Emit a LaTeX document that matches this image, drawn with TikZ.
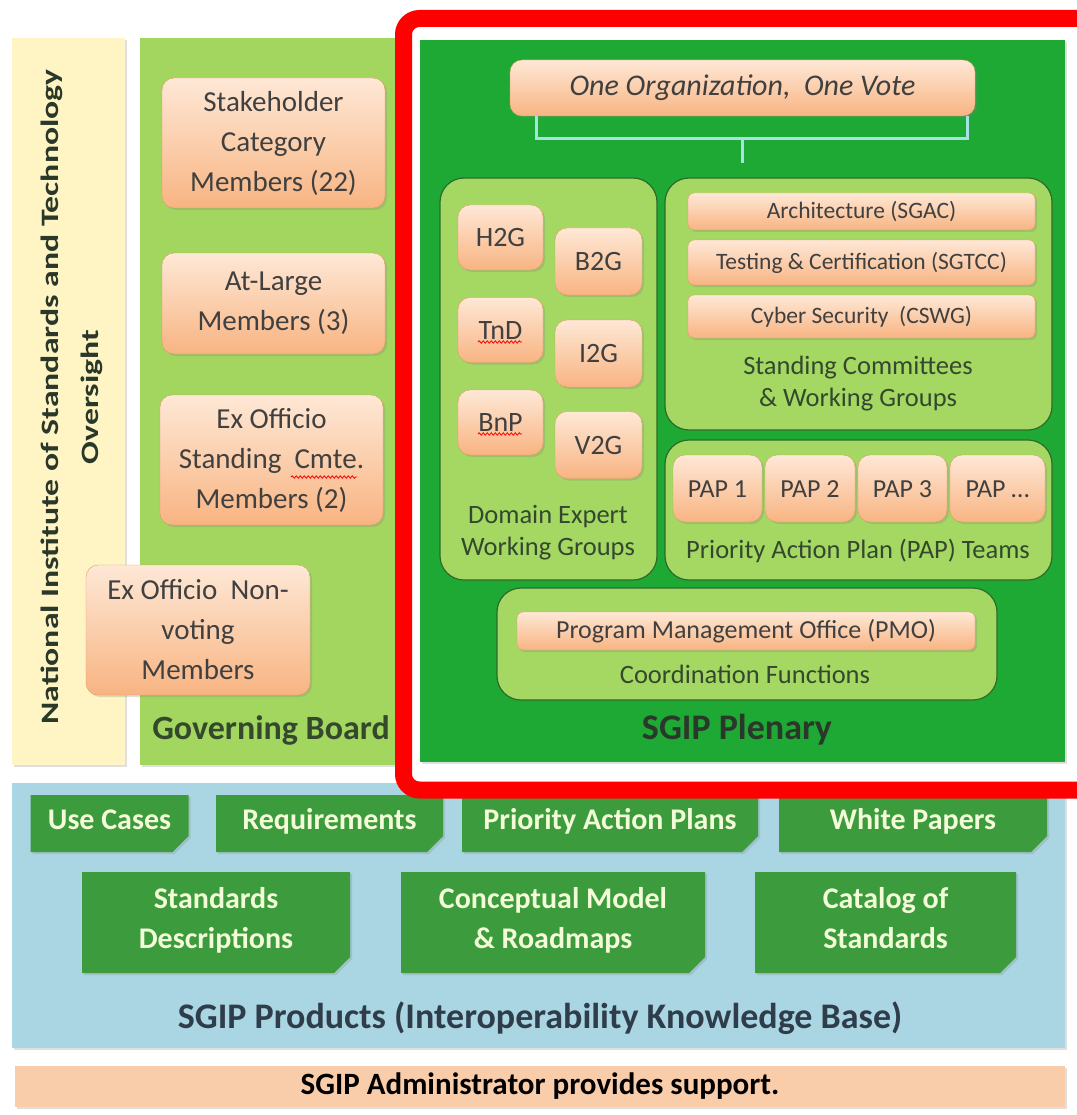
\documentclass[tikz,border=0pt]{standalone}
\usepackage{fontspec}
\setmainfont{Carlito}
\usetikzlibrary{shapes.misc,shadows,decorations.pathmorphing}

\definecolor{nistyellow}{HTML}{FFF4C4}
\definecolor{boardgreen}{HTML}{A2D65E}
\definecolor{plengreen}{HTML}{1EA934}
\definecolor{panelgreen}{HTML}{A4D862}
\definecolor{paneledge}{HTML}{2E6A2A}
\definecolor{ortop}{HTML}{FEE8D6}
\definecolor{orbot}{HTML}{F8B482}
\definecolor{oredge}{HTML}{E19C66}
\definecolor{prodgreen}{HTML}{3C9B3C}
\definecolor{prodtext}{HTML}{F3FBD8}
\definecolor{prodblue}{HTML}{AAD5E2}
\definecolor{adminpeach}{HTML}{F9CDAA}
\definecolor{bracketcyan}{HTML}{A6E2E4}
\definecolor{boxtext}{HTML}{404040}
\definecolor{captext}{HTML}{34482E}
\definecolor{titletext}{HTML}{2A382A}
\definecolor{prodtitle}{HTML}{2F3D4A}

\tikzset{
  softshadow/.style={drop shadow={opacity=0.25,shadow xshift=2pt,shadow yshift=-2pt}},
  column/.style={inner sep=0pt, softshadow},
  orbox/.style={draw=oredge, rounded corners=12pt, top color=ortop, bottom color=orbot,
    text=boxtext, align=center, inner sep=0pt, softshadow},
  bigtext/.style={font=\fontsize{29}{40}\selectfont},
  wgtext/.style={font=\fontsize{28}{30}\selectfont, text height=18pt, text depth=0pt},
  paptext/.style={font=\fontsize{26}{30}\selectfont, text height=17pt, text depth=0pt},
  cmtetext/.style={font=\fontsize{23.5}{26}\selectfont, rounded corners=6pt},
  panel/.style={draw=paneledge, line width=1.2pt, fill=panelgreen, rounded corners=24pt, inner sep=0pt},
  caption/.style={text=captext, align=center, font=\fontsize{26.5}{32}\selectfont},
  title/.style={text=titletext, font=\bfseries\fontsize{36}{40}\selectfont},
  prodbox/.style={chamfered rectangle, chamfered rectangle corners=south east,
    chamfered rectangle xsep=8pt, chamfered rectangle ysep=8pt, fill=prodgreen,
    text=prodtext, align=center, inner sep=0pt, softshadow, text depth=10pt,
    font=\bfseries\fontsize{30}{40}\selectfont},
  oneline/.style={text height=21pt, minimum height=57pt},
  twoline/.style={text height=61pt, minimum height=101pt},
  bracket/.style={draw=bracketcyan, line width=3pt},
  spell/.style={draw=red, line width=0.8pt, decorate,
    decoration={snake, amplitude=1.2pt, segment length=4pt}},
  redframe/.style={draw=red, line width=17pt, rounded corners=16pt}
}

\begin{document}
\begin{tikzpicture}[x=1pt,y=-1pt]
  \useasboundingbox (0,0) rectangle (1076,1115);

  % oversight column
  \node[column, fill=nistyellow, minimum width=113pt, minimum height=727pt] (nist) at (68.5,401.5) {};
  \node[rotate=90, xscale=1.35, align=center, text=titletext, font=\bfseries\fontsize{25}{40}\selectfont]
    (nisttitle) at (72,397) {National Institute of Standards and Technology\\Oversight};

  % governing board
  \node[column, fill=boardgreen, minimum width=258pt, minimum height=727pt] (board) at (269,401.5) {};
  \node[orbox, bigtext, minimum width=223pt, minimum height=130pt] (stake) at (273.5,143)
    {Stakeholder\\Category\\Members (22)};
  \node[orbox, bigtext, minimum width=223pt, minimum height=101pt] (atlarge) at (273.5,303.5)
    {At-Large\\Members (3)};
  \node[orbox, bigtext, minimum width=223pt, minimum height=130pt] (exstand) at (271.5,460)
    {Ex Officio\\Standing\ \ Cmte.\\Members (2)};
  \node[orbox, bigtext, minimum width=224pt, minimum height=130pt] (exnon) at (198,630)
    {Ex Officio\ \ Non-\\voting\\Members};
  \draw[spell] (291,477) -- (357,477);
  \node[title, text=captext, font=\bfseries\fontsize{34}{40}\selectfont] (boardtitle) at (271,730) {Governing Board};

  % plenary
  \node[column, fill=plengreen, minimum width=645pt, minimum height=722pt] (plenary) at (742.5,401) {};
  \node[orbox, minimum width=465pt, minimum height=56pt, font=\itshape\fontsize{30}{32}\selectfont]
    (onevote) at (742.5,88) {One Organization,\ \ One Vote};
  \draw[bracket] ([xshift=27pt]onevote.south west) -- ++(0,22) -| ([xshift=-8pt]onevote.south east);
  \draw[bracket] ([yshift=-22pt]onevote.south) -- ([yshift=-47pt]onevote.south);

  % domain expert working groups
  \node[panel, minimum width=217pt, minimum height=402pt] (domain) at (548.5,379) {};
  \node[orbox, wgtext, minimum width=85pt, minimum height=65pt] (h2g) at (500.5,237.5) {H2G};
  \node[orbox, wgtext, minimum width=87pt, minimum height=67pt] (b2g) at (598.5,261.5) {B2G};
  \node[orbox, wgtext, minimum width=85pt, minimum height=65pt] (tnd) at (500.5,330) {TnD};
  \node[orbox, wgtext, minimum width=87pt, minimum height=67pt] (i2g) at (598.5,353.5) {I2G};
  \node[orbox, wgtext, minimum width=85pt, minimum height=65pt] (bnp) at (500.5,422.5) {BnP};
  \node[orbox, wgtext, minimum width=87pt, minimum height=67pt] (v2g) at (598.5,445) {V2G};
  \draw[spell] (478,342) -- (522,342);
  \draw[spell] (478,434) -- (522,434);
  \node[caption] (domaincap) at (548,533) {Domain Expert\\Working Groups};

  % standing committees
  \node[panel, minimum width=387pt, minimum height=252pt] (standing) at (858.5,304) {};
  \node[orbox, cmtetext, minimum width=347pt, minimum height=37pt] (sgac) at (861.5,211.5)
    {Architecture (SGAC)};
  \node[orbox, cmtetext, minimum width=347pt, minimum height=45pt] (sgtcc) at (861.5,262.5)
    {Testing \& Certification (SGTCC)};
  \node[orbox, cmtetext, minimum width=347pt, minimum height=43pt] (cswg) at (861.5,316.5)
    {Cyber Security\ \ (CSWG)};
  \node[caption] (standingcap) at (858,384) {Standing Committees\\\& Working Groups};

  % priority action plan teams
  \node[panel, minimum width=387pt, minimum height=140pt] (paps) at (858.5,510) {};
  \node[orbox, paptext, minimum width=89pt, minimum height=67pt] (pap1) at (717.5,488.5) {PAP 1};
  \node[orbox, paptext, minimum width=90pt, minimum height=67pt] (pap2) at (810,488.5) {PAP 2};
  \node[orbox, paptext, minimum width=89pt, minimum height=67pt] (pap3) at (902.5,488.5) {PAP 3};
  \node[orbox, paptext, minimum width=95pt, minimum height=67pt] (pap4) at (997.5,488.5) {PAP \dots};
  \node[caption] (papcap) at (858,551) {Priority Action Plan (PAP) Teams};

  % coordination functions
  \node[panel, minimum width=500pt, minimum height=112pt] (coord) at (747,644) {};
  \node[orbox, font=\fontsize{26}{28}\selectfont, rounded corners=6pt, minimum width=458pt, minimum height=38pt]
    (pmo) at (746,631) {Program Management Office (PMO)};
  \node[caption] (coordcap) at (745,674) {Coordination Functions};
  \node[title] (plentitle) at (737,730) {SGIP Plenary};

  % products
  \node[column, fill=prodblue, minimum width=1053pt, minimum height=265pt] (products) at (538.5,915) {};
  \node[prodbox, oneline, minimum width=158pt] (usecases) at (109.5,823.5) {Use Cases};
  \node[prodbox, oneline, minimum width=227pt] (reqs) at (329.5,823.5) {Requirements};
  \node[prodbox, oneline, minimum width=296pt] (plans) at (610,823.5) {Priority Action Plans};
  \node[prodbox, oneline, minimum width=268pt] (papers) at (913,823.5) {White Papers};
  \node[prodbox, twoline, minimum width=268pt] (stddesc) at (216,922.5) {Standards\\Descriptions};
  \node[prodbox, twoline, minimum width=304pt] (model) at (553,922.5) {Conceptual Model\\\& Roadmaps};
  \node[prodbox, twoline, minimum width=261pt] (catalog) at (885.5,922.5) {Catalog of\\Standards};
  \node[title, text=prodtitle] (prodtitle) at (540,1018) {SGIP Products (Interoperability Knowledge Base)};

  % administrator
  \node[column, fill=adminpeach, minimum width=1050pt, minimum height=41pt,
    font=\bfseries\fontsize{31}{34}\selectfont] (admin) at (540,1086) {SGIP Administrator provides support.};

  % highlight frame
  \draw[redframe] (403.5,18.5) rectangle (1095,790);
\end{tikzpicture}
\end{document}
